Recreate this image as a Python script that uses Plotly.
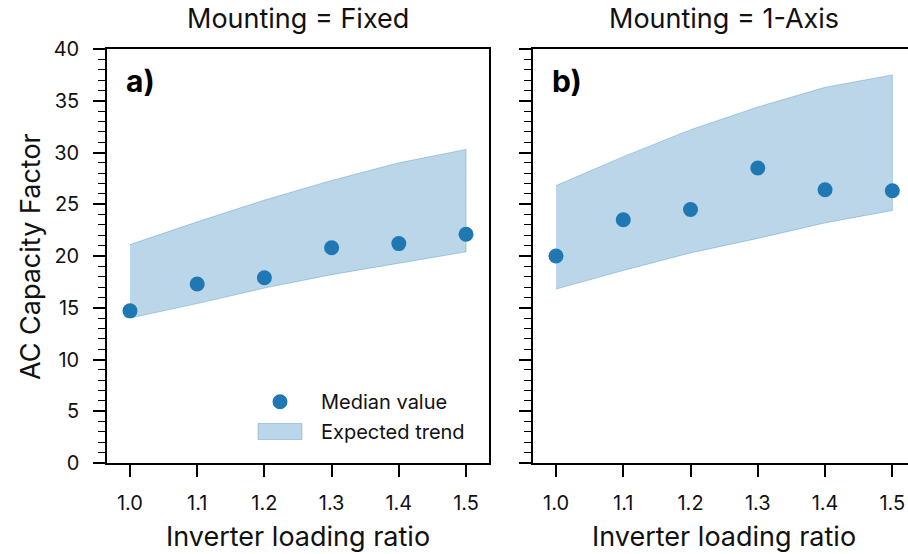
import plotly.graph_objects as go

# Inverter loading ratio (ILR) bins
ilr = [1.0, 1.1, 1.2, 1.3, 1.4, 1.5]

# Fixed-tilt systems
fixed_median = [14.7, 17.3, 17.9, 20.8, 21.2, 22.1]
fixed_upper = [21.1, 23.3, 25.4, 27.3, 29.0, 30.3]
fixed_lower = [14.0, 15.4, 16.9, 18.2, 19.3, 20.4]

# Single-axis tracking systems
axis_median = [20.0, 23.5, 24.5, 28.5, 26.4, 26.3]
axis_upper = [26.8, 29.6, 32.2, 34.4, 36.3, 37.5]
axis_lower = [16.8, 18.6, 20.3, 21.7, 23.2, 24.4]

panel_titles = ["Mounting = Fixed", "Mounting = 1-Axis"]
panel_labels = ["a)", "b)"]
y_ticks = [0, 5, 10, 15, 20, 25, 30, 35, 40]
x_ticks = [1.0, 1.1, 1.2, 1.3, 1.4, 1.5]

BLUE = "#1f77b4"
BAND_FILL = "rgba(31,119,180,0.3)"
BAND_EDGE = "rgba(31,119,180,0.3)"
FONT = "Inter, Liberation Sans, Arial, sans-serif"
INK = "#111"

W, H = 908, 554
# pixel layout of the two panels
left_px = [(107, 489), (533, 908)]
top_px, bot_px = 49, 463

fig = go.Figure()

panels = [
    (fixed_median, fixed_upper, fixed_lower, "x", "y"),
    (axis_median, axis_upper, axis_lower, "x2", "y2"),
]
for med, up, lo, xa, ya in panels:
    band_x = ilr + ilr[::-1]
    band_y = up + lo[::-1]
    fig.add_trace(go.Scatter(
        x=band_x, y=band_y, mode="lines", fill="toself",
        fillcolor=BAND_FILL, line=dict(color=BAND_EDGE, width=1),
        xaxis=xa, yaxis=ya, showlegend=False, hoverinfo="skip",
    ))
    fig.add_trace(go.Scatter(
        x=ilr, y=med, mode="markers",
        marker=dict(color=BLUE, size=15, line=dict(width=0)),
        xaxis=xa, yaxis=ya, showlegend=False,
    ))

axis_common = dict(
    showline=True, linecolor="black", linewidth=1.5,
    ticks="outside", tickcolor="black", tickwidth=1.5, ticklen=12,
    showgrid=False, zeroline=False, automargin=False,
    tickfont=dict(family=FONT, size=20, color=INK),
)

x_ranges = [[0.9658, 1.5342], [0.9658, 1.5233]]
for i, (xa, ya) in enumerate([("xaxis", "yaxis"), ("xaxis2", "yaxis2")]):
    l, r = left_px[i]
    fig.layout[xa] = dict(
        axis_common,
        domain=[l / W, r / W], range=x_ranges[i],
        tickvals=x_ticks, ticktext=[f"{v:.1f}" for v in x_ticks],
        mirror=True, anchor="y" if i == 0 else "y2",
        ticklabelstandoff=9,
    )
    fig.layout[ya] = dict(
        axis_common,
        domain=[1 - bot_px / H, 1 - top_px / H], range=[0, 40],
        tickvals=y_ticks, showticklabels=(i == 0),
        mirror=(i == 0), anchor="x" if i == 0 else "x2",
        minor=dict(dtick=1, ticks="outside", ticklen=7,
                   tickcolor="black", tickwidth=1.2),
        ticklabelstandoff=10,
    )


def dx(px, i):
    """pixel column -> fraction of panel i's x domain"""
    l, r = left_px[i]
    return (px - l) / (r - l)


def dy(py):
    """pixel row -> fraction of the shared y domain"""
    return (bot_px - py) / (bot_px - top_px)


refs = [("x domain", "y domain"), ("x2 domain", "y2 domain")]
title_centers = [298, 724]
label_left = [124, 550]

annotations = []
for i in range(2):
    xr, yr = refs[i]
    annotations.append(dict(
        text=panel_titles[i], xref=xr, yref=yr,
        x=dx(title_centers[i], i), y=dy(19),
        xanchor="center", yanchor="middle", showarrow=False,
        font=dict(family=FONT, size=27, color=INK),
    ))
    annotations.append(dict(
        text="Inverter loading ratio", xref=xr, yref=yr,
        x=dx(title_centers[i], i), y=dy(536),
        xanchor="center", yanchor="middle", showarrow=False,
        font=dict(family=FONT, size=27, color=INK),
    ))
    annotations.append(dict(
        text=f"<b>{panel_labels[i]}</b>", xref=xr, yref=yr,
        x=dx(label_left[i], i), y=dy(81),
        xanchor="left", yanchor="middle", showarrow=False,
        font=dict(family=FONT, size=30, color="#000"),
    ))

annotations.append(dict(
    text="AC Capacity Factor", xref="x domain", yref="y domain",
    x=dx(30, 0), y=dy(256), xanchor="center", yanchor="middle",
    textangle=-90, showarrow=False,
    font=dict(family=FONT, size=27, color=INK),
))

# legend keys, drawn in the left panel
annotations.append(dict(
    text="Median value", xref="x domain", yref="y domain",
    x=dx(319, 0), y=dy(401.7), xanchor="left", yanchor="middle",
    showarrow=False, font=dict(family=FONT, size=20, color=INK),
))
annotations.append(dict(
    text="Expected trend", xref="x domain", yref="y domain",
    x=dx(319, 0), y=dy(431.7), xanchor="left", yanchor="middle",
    showarrow=False, font=dict(family=FONT, size=20, color=INK),
))

shapes = [
    dict(type="circle", xref="x domain", yref="y domain",
         x0=dx(280 - 7.5, 0), x1=dx(280 + 7.5, 0),
         y0=dy(401.7 + 7.5), y1=dy(401.7 - 7.5),
         fillcolor=BLUE, line=dict(width=0)),
    dict(type="rect", xref="x domain", yref="y domain",
         x0=dx(258, 0), x1=dx(302, 0),
         y0=dy(439.5), y1=dy(423.5),
         fillcolor=BAND_FILL, line=dict(color=BAND_EDGE, width=1)),
]

fig.update_layout(
    width=W, height=H,
    margin=dict(l=0, r=0, t=0, b=0, autoexpand=False),
    plot_bgcolor="white", paper_bgcolor="white",
    showlegend=False,
    annotations=annotations, shapes=shapes,
    font=dict(family=FONT),
)

fig.write_html("out.html")
